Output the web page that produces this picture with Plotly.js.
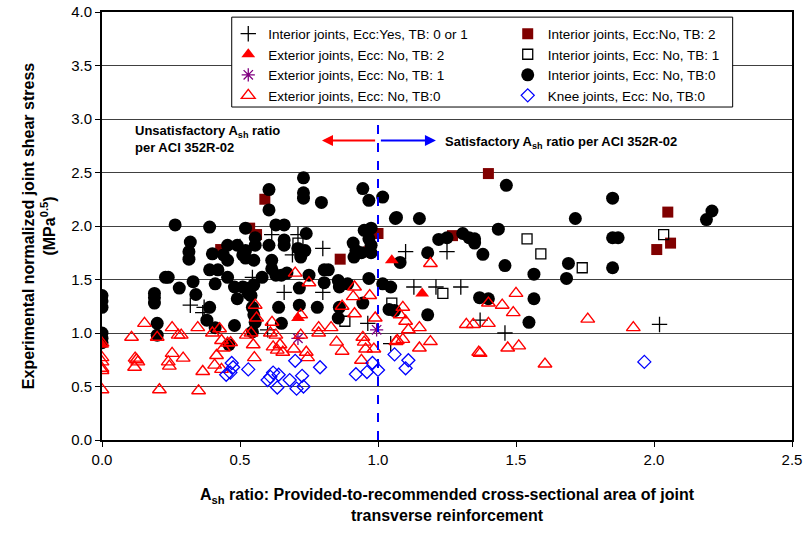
<!DOCTYPE html>
<html>
<head>
<meta charset="utf-8">
<script src="https://cdn.plot.ly/plotly-3.0.1.min.js"></script>
<style>html,body{margin:0;padding:0;background:#fff;}#chart{width:806px;height:538px;}</style>
</head>
<body>
<div id="chart"></div>
<script>
// Interior joints, Ecc:Yes, TB: 0 or 1 (plus)
const plusX = [0.615,0.71,0.69,0.80,0.545,0.66,0.80,0.32,0.37,0.365,0.60,0.963,1.046,1.10,1.25,1.13,1.21,1.30,1.37,1.46,2.02,0.50];
const plusY = [1.92,1.92,1.73,1.79,1.52,1.38,1.38,1.26,1.24,1.19,1.03,1.09,0.90,1.76,1.76,1.43,1.43,1.43,1.12,1.00,1.08,1.81];
// Interior joints, Ecc:No, TB: 2 (dark red filled squares)
const sqRedX = [0.59,0.535,0.56,0.43,0.863,0.967,1.0,1.40,1.27,2.05,2.01,2.06];
const sqRedY = [2.25,1.98,1.92,1.78,1.69,1.76,1.93,2.49,1.91,2.13,1.78,1.84];
// Exterior joints, Ecc: No, TB: 2 (filled red triangles)
const triFillX = [0.71,1.05,1.16,0.0];
const triFillY = [1.14,1.68,1.37,0.89];
// Interior joints, Ecc: No, TB: 1 (open squares)
const sqOpenX = [0.71,0.88,1.05,1.235,1.54,1.59,1.74,2.035];
const sqOpenY = [1.84,1.11,1.28,1.37,1.88,1.74,1.61,1.92];
// Exterior joints, Ecc: No, TB: 1 (asterisk)
const astX = [0.71,0.995];
const astY = [0.95,1.03];
// Interior joints, Ecc: No, TB:0 (black circles)
const circX = [0,0,0,0,0,0,
  0.19,0.19,0.19,0.2,0.2,
  0.265,0.39,0.52,0.32,0.315,0.315,
  0.40,0.44,0.455,0.49,0.455,0.51,
  0.39,0.42,0.41,0.455,0.23,0.24,0.33,0.28,0.34,
  0.48,0.51,0.49,0.39,0.53,
  0.38,0.41,0.48,0.54,0.545,0.55,0.555,0.545,0.46,
  0.73,0.73,0.73,0.795,0.605,0.605,
  0.555,0.555,0.63,0.66,0.605,0.66,0.66,
  0.74,0.71,0.735,0.72,0.52,0.52,0.55,
  0.615,0.615,0.58,0.63,0.65,0.67,0.75,
  0.805,0.805,0.715,0.52,0.55,
  0.64,0.715,0.78,
  0.945,0.967,1.017,1.067,
  0.95,0.975,0.967,0.975,0.91,0.92,0.913,0.94,0.975,
  0.82,0.856,0.86,0.89,0.967,1.017,1.046,
  0.945,0.86,1.08,0.856,0.65,1.04,1.06,
  1.465,1.063,1.15,1.436,1.22,1.25,1.307,1.33,1.35,1.35,1.38,1.18,1.46,1.565,1.69,1.683,1.368,1.40,1.565,
  1.18,1.547,
  1.85,1.715,2.19,2.21,1.85,1.87,1.85];
const circY = [1.35,1.30,1.24,1.00,0.95,0.91,
  1.37,1.33,1.28,1.09,0.98,
  2.01,1.99,1.98,1.85,1.76,1.69,
  1.74,1.73,1.82,1.82,1.68,1.73,
  1.59,1.59,1.46,1.52,1.52,1.52,1.48,1.42,1.36,
  1.43,1.43,1.32,1.24,1.37,
  1.12,1.05,1.07,1.35,1.24,1.17,1.10,1.01,0.89,
  2.45,2.31,2.26,2.22,2.34,2.15,
  1.89,1.82,2.01,2.01,1.82,1.87,1.82,
  1.93,1.79,1.77,1.71,1.77,1.70,1.68,
  1.68,1.60,1.52,1.54,1.54,1.56,1.54,
  1.59,1.47,1.42,1.42,1.45,
  1.24,1.26,1.24,
  2.35,2.24,2.27,2.08,
  1.96,1.98,1.88,1.82,1.84,1.77,1.71,1.75,1.75,
  1.59,1.49,1.43,1.46,1.51,1.46,1.43,
  1.28,1.24,1.66,1.14,1.09,1.22,1.21,
  2.38,2.07,2.07,1.97,1.875,1.89,1.93,1.89,1.88,1.84,1.735,1.75,1.63,1.55,1.65,1.51,1.33,1.32,1.32,
  1.17,1.10,
  2.26,2.07,2.06,2.14,1.89,1.89,1.61];
// Exterior joints, Ecc: No, TB:0 (open red triangles)
const triOpenX = [0,0,0,0,0,0,
  0.107,0.12,0.125,0.13,0.118,0.154,
  0.254,0.276,0.287,0.347,0.254,0.24,0.244,0.294,
  0.208,0.35,0.365,0.40,0.426,0.433,0.455,0.466,0.44,0.415,0.408,0.433,
  0.523,0.548,0.552,0.555,0.56,0.61,0.616,0.54,0.2,
  0.63,0.62,0.645,0.655,0.635,0.695,0.72,0.74,0.745,0.785,0.785,0.83,0.85,0.87,0.915,0.945,0.95,0.955,0.985,0.94,0.99,0.72,0.91,0.97,1.07,
  0.70,0.75,0.915,0.87,
  1.09,1.08,1.10,1.11,1.15,1.09,1.065,1.15,1.19,1.32,1.345,1.40,1.40,1.45,1.49,1.50,1.47,1.51,1.605,1.365,1.37,1.19,
  1.76,1.925];
const triOpenY = [0.905,0.77,0.73,0.67,0.65,0.47,
  0.96,0.765,0.75,0.73,0.68,1.09,
  1.05,0.98,0.98,1.05,0.81,0.73,0.69,0.765,
  0.47,0.46,0.64,1.00,1.04,0.93,0.905,0.91,0.86,0.79,0.70,0.66,
  0.98,0.89,0.77,1.26,1.14,1.00,1.10,1.00,0.96,
  0.98,0.87,0.89,0.82,0.84,0.85,0.98,0.82,0.77,1.05,1.00,1.05,0.915,0.83,1.18,0.96,0.915,0.85,0.85,0.745,1.14,1.17,1.34,1.35,0.93,
  1.56,1.47,1.43,1.25,
  1.24,1.17,1.11,1.03,1.05,0.94,0.92,0.86,0.92,1.08,1.08,1.09,1.28,1.26,1.19,1.37,0.86,0.88,0.71,0.82,0.81,1.65,
  1.13,1.05];
// Knee joints, Ecc: No, TB:0 (open blue diamonds)
const kneeX = [0.47,0.475,0.465,0.45,0.53,0.60,0.61,0.62,0.64,0.635,0.70,0.68,0.725,0.705,0.73,0.79,0.92,0.96,0.98,1.0,1.06,1.11,1.10,1.965];
const kneeY = [0.72,0.68,0.63,0.61,0.66,0.56,0.59,0.63,0.61,0.49,0.74,0.56,0.60,0.48,0.50,0.68,0.615,0.635,0.72,0.655,0.80,0.745,0.67,0.73];

const xTicks = [0,0.5,1.0,1.5,2.0,2.5];
const yTicks = [0,0.5,1.0,1.5,2.0,2.5,3.0,3.5,4.0];
const xTickText = ['0.0','0.5','1.0','1.5','2.0','2.5'];
const yTickText = ['0.0','0.5','1.0','1.5','2.0','2.5','3.0','3.5','4.0'];

const traces = [
  {x: sqRedX, y: sqRedY, name: 'Interior joints, Ecc:No, TB: 2', mode: 'markers', type: 'scatter', legend: 'legend2', legendrank: 1,
   marker: {symbol: 'square', size: 11, color: '#800000', line: {width: 0}}},
  {x: circX, y: circY, name: 'Interior joints, Ecc: No, TB:0', mode: 'markers', type: 'scatter', legend: 'legend2', legendrank: 3,
   marker: {symbol: 'circle', size: 13, color: '#000000', line: {width: 0}}},
  {x: plusX, y: plusY, name: 'Interior joints, Ecc:Yes, TB: 0 or 1', mode: 'markers', type: 'scatter', legend: 'legend', legendrank: 1,
   marker: {symbol: 'cross-thin', size: 11, color: '#000000', line: {width: 1.3, color: '#000000'}}},
  {x: sqOpenX, y: sqOpenY, name: 'Interior joints, Ecc: No, TB: 1', mode: 'markers', type: 'scatter', legend: 'legend2', legendrank: 2,
   marker: {symbol: 'square-open', size: 10, color: '#000000', line: {width: 1.3, color: '#000000'}}},
  {x: triFillX, y: triFillY, name: 'Exterior joints, Ecc: No, TB: 2', mode: 'markers', type: 'scatter', legend: 'legend', legendrank: 2,
   marker: {symbol: 'triangle-up', size: 12, color: '#ff0000', line: {width: 0}}},
  {x: astX, y: astY, name: 'Exterior joints, Ecc: No, TB: 1', mode: 'markers', type: 'scatter', legend: 'legend', legendrank: 3,
   marker: {symbol: 'asterisk-open', size: 11, color: '#800080', line: {width: 1.3, color: '#800080'}}},
  {x: triOpenX, y: triOpenY, name: 'Exterior joints, Ecc: No, TB:0', mode: 'markers', type: 'scatter', legend: 'legend', legendrank: 4,
   marker: {symbol: 'triangle-up-open', size: 12, color: '#ff0000', line: {width: 1.4, color: '#ff0000'}}},
  {x: kneeX, y: kneeY, name: 'Knee joints, Ecc: No, TB:0', mode: 'markers', type: 'scatter', legend: 'legend2', legendrank: 4,
   marker: {symbol: 'diamond-open', size: 10, color: '#0000ff', line: {width: 1.3, color: '#0000ff'}}}
];

const font = 'Arial, "Liberation Sans", sans-serif';
const layout = {
  width: 806, height: 538,
  margin: {l: 102, r: 14, t: 12, b: 98},
  paper_bgcolor: '#ffffff', plot_bgcolor: '#ffffff',
  font: {family: font, color: '#000000', size: 15},
  showlegend: true,
  xaxis: {
    range: [0, 2.5], tickvals: xTicks, ticktext: xTickText,
    ticks: 'outside', ticklen: 5, tickcolor: '#000', tickfont: {size: 15},
    showgrid: false, zeroline: false,
    showline: true, linecolor: '#000', linewidth: 2, mirror: true,
    title: {text: '<b>A<sub>sh</sub> ratio: Provided-to-recommended cross-sectional area of joint<br>transverse reinforcement</b>', font: {size: 16}, standoff: 22}
  },
  yaxis: {
    range: [0, 4], tickvals: yTicks, ticktext: yTickText,
    ticks: 'outside', ticklen: 5, tickcolor: '#000', tickfont: {size: 15},
    showgrid: true, gridcolor: '#404040', gridwidth: 1, zeroline: false,
    showline: true, linecolor: '#000', linewidth: 2, mirror: true,
    title: {text: '<b>Experimental normalized joint shear stress<br>(MPa<sup>0.5</sup>)</b>', font: {size: 16}, standoff: 12}
  },
  legend: {
    x: 0.183, y: 0.985, xanchor: 'left', yanchor: 'top',
    bgcolor: 'rgba(0,0,0,0)', borderwidth: 0, font: {size: 13.5}, itemwidth: 30, tracegroupgap: 0
  },
  legend2: {
    x: 0.588, y: 0.985, xanchor: 'left', yanchor: 'top',
    bgcolor: 'rgba(0,0,0,0)', borderwidth: 0, font: {size: 13.5}, itemwidth: 30, tracegroupgap: 0
  },
  shapes: [
    {type: 'rect', xref: 'paper', yref: 'paper', x0: 0.188, x1: 0.914, y0: 0.778, y1: 0.988,
     line: {color: '#000', width: 1}, fillcolor: '#ffffff', layer: 'above'},
    {type: 'line', xref: 'x', yref: 'y', x0: 1, x1: 1, y0: 0, y1: 3.0,
     line: {color: '#0000ff', width: 2, dash: 'dash'}}
  ],
  annotations: [
    {x: 0.797, y: 2.80, ax: 0.995, ay: 2.80, xref: 'x', yref: 'y', axref: 'x', ayref: 'y',
     text: '', showarrow: true, arrowhead: 2, arrowsize: 1.1, arrowwidth: 2, arrowcolor: '#ff0000', standoff: 0, startstandoff: 0},
    {x: 1.21, y: 2.80, ax: 1.005, ay: 2.80, xref: 'x', yref: 'y', axref: 'x', ayref: 'y',
     text: '', showarrow: true, arrowhead: 2, arrowsize: 1.1, arrowwidth: 2, arrowcolor: '#0000ff', standoff: 0, startstandoff: 0},
    {x: 0.112, y: 2.81, xref: 'x', yref: 'y', xanchor: 'left', yanchor: 'middle', align: 'left', showarrow: false,
     text: '<b>Unsatisfactory A<sub>sh</sub> ratio<br>per ACI 352R-02</b>', font: {size: 13}},
    {x: 1.235, y: 2.785, xref: 'x', yref: 'y', xanchor: 'left', yanchor: 'middle', align: 'left', showarrow: false,
     text: '<b>Satisfactory A<sub>sh</sub> ratio per ACI 352R-02</b>', font: {size: 13}}
  ]
};

Plotly.newPlot('chart', traces, layout, {displayModeBar: false, staticPlot: true});
</script>
</body>
</html>
